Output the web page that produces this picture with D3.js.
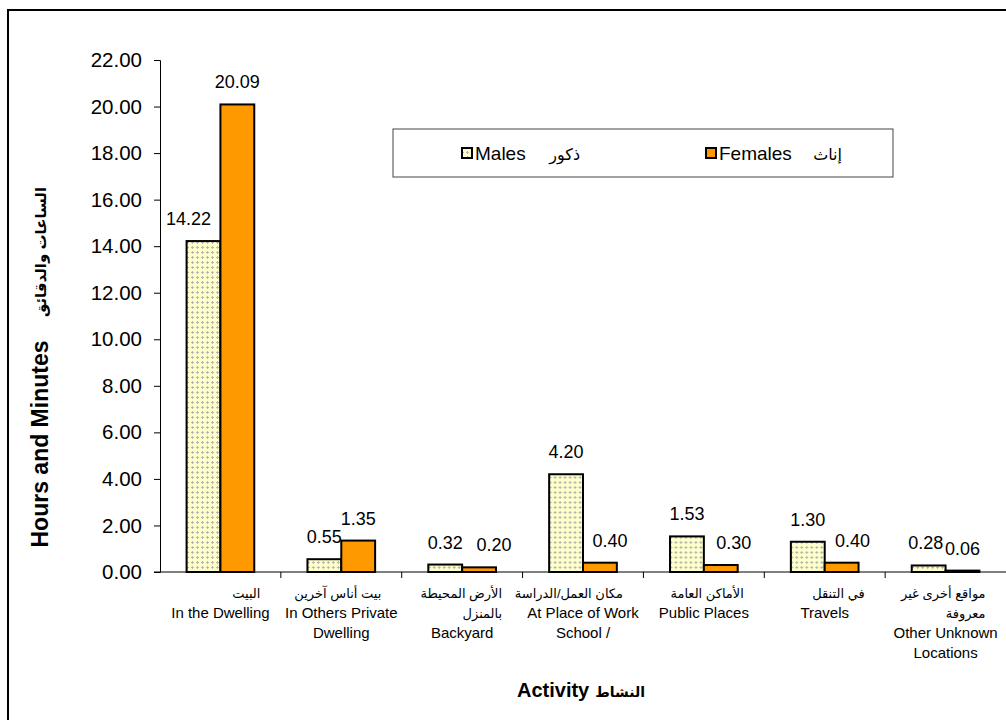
<!DOCTYPE html>
<html>
<head>
<meta charset="utf-8">
<script src="https://cdn.jsdelivr.net/npm/d3@7"></script>
<style>
	body { margin: 0; background: #fff; }
	text { font-family: "Liberation Sans", Arial, "DejaVu Sans", sans-serif; fill: #000; }
</style>
</head>
<body>
<div id="mainWrapper"><svg width="1006" height="720"></svg></div>
<script>
	// data
	var categoriesAr = [
		["البيت"],
		["بيت أناس آخرين"],
		["الأرض المحيطة", "بالمنزل"],
		["مكان العمل/الدراسة"],
		["الأماكن العامة"],
		["في التنقل"],
		["مواقع أخرى غير", "معروفة"]
	];
	var categoriesEn = [
		["In the Dwelling"],
		["In Others Private", "Dwelling"],
		["Backyard"],
		["At Place of Work", "School /"],
		["Public Places"],
		["Travels"],
		["Other Unknown", "Locations"]
	];
	var males   = [14.22, 0.55, 0.32, 4.20, 1.53, 1.30, 0.28];
	var females = [20.09, 1.35, 0.20, 0.40, 0.30, 0.40, 0.06];
	var yTicks  = [0, 2, 4, 6, 8, 10, 12, 14, 16, 18, 20, 22];
	var seriesNames = ["Males", "Females"];
	var seriesAr = ["ذكور", "إناث"];

	//ラベルの横ずらし（元の図に合わせる）
	var labelDx = {
		Males:   [-15, 0, 0, 0, 0, 0, -3],
		Females: [0, 0, 15, 10, 13, 11, 0]
	};

	function ChartDraw(){

		var svg = d3.select("#mainWrapper>svg");

		//外枠
		svg.append("rect")
			.attr("x", 8).attr("y", 10)
			.attr("width", 1010).attr("height", 720)
			.attr("fill", "none")
			.attr("stroke", "#000")
			.attr("stroke-width", 2);

		//pattern for males
		var defs = svg.append("defs");
		var pat = defs.append("pattern")
			.attr("id", "malePat")
			.attr("width", 5).attr("height", 5)
			.attr("patternUnits", "userSpaceOnUse");
		pat.append("rect").attr("width", 5).attr("height", 5).attr("fill", "#ffffcc");
		pat.append("rect").attr("x", 2).attr("y", 1).attr("width", 1).attr("height", 3).attr("fill", "#b8b8b0");
		pat.append("rect").attr("x", 1).attr("y", 2).attr("width", 3).attr("height", 1).attr("fill", "#b8b8b0");

		var left = 160, right = 1006, top = 60, bottom = 572;

		var y = d3.scaleLinear().domain([0, 22]).range([bottom, top]);
		var x0 = d3.scaleBand().domain(d3.range(males.length)).range([left, right]);
		var bw = x0.bandwidth();
		var x1 = d3.scaleBand().domain(seriesNames).range([bw * 0.22, bw * 0.78]);

		//y軸
		var yAxis = svg.append("g")
			.attr("transform", "translate(" + left + ",0)")
			.call(d3.axisLeft(y).tickValues(yTicks).tickFormat(d3.format(".2f")).tickSize(6).tickPadding(12));
		yAxis.select(".domain").attr("stroke", "#000");
		yAxis.selectAll(".tick line").attr("stroke", "#000");
		yAxis.selectAll(".tick text")
			.style("font-size", "20.5px")
			.attr("fill", "#000");

		//x軸
		var xg = svg.append("g");
		xg.append("line")
			.attr("x1", left - 6).attr("x2", right)
			.attr("y1", bottom).attr("y2", bottom)
			.attr("stroke", "#000");
		xg.selectAll(".xtick")
			.data(d3.range(1, males.length))
			.enter()
			.append("line")
			.attr("x1", function(d){ return x0(d); })
			.attr("x2", function(d){ return x0(d); })
			.attr("y1", bottom).attr("y2", bottom + 6)
			.attr("stroke", "#000");

		//棒
		var groups = svg.selectAll(".grp")
			.data(males.map(function(m, i){ return [{s:"Males", v:m, i:i}, {s:"Females", v:females[i], i:i}]; }))
			.enter()
			.append("g")
			.attr("transform", function(d, i){ return "translate(" + x0(i) + ",0)"; });

		groups.selectAll("rect")
			.data(function(d){ return d; })
			.enter()
			.append("rect")
			.attr("x", function(d){ return x1(d.s); })
			.attr("y", function(d){ return y(d.v); })
			.attr("width", x1.bandwidth())
			.attr("height", function(d){ return bottom - y(d.v); })
			.attr("fill", function(d){ return d.s == "Males" ? "url(#malePat)" : "#ff9900"; })
			.attr("stroke", "#000")
			.attr("stroke-width", 2);

		//数値
		groups.selectAll("text")
			.data(function(d){ return d; })
			.enter()
			.append("text")
			.attr("x", function(d){ return x1(d.s) + x1.bandwidth() / 2 + labelDx[d.s][d.i]; })
			.attr("y", function(d){ return y(d.v) - 16; })
			.attr("text-anchor", "middle")
			.style("font-size", "18px")
			.text(function(d){ return d.v.toFixed(2); });

		//カテゴリラベル
		var lab = svg.selectAll(".cat")
			.data(d3.range(males.length))
			.enter()
			.append("g")
			.attr("transform", function(i){ return "translate(" + (x0(i) + bw / 2) + "," + (bottom + 26) + ")"; });

		lab.each(function(i){
			var g = d3.select(this);
			var n = 0;
			categoriesAr[i].forEach(function(t){
				g.append("text")
					.attr("x", 40).attr("y", n * 20)
					.attr("text-anchor", "end")
					.style("font-size", "13px")
					.text(t);
				n++;
			});
			categoriesEn[i].forEach(function(t){
				g.append("text")
					.attr("x", 0).attr("y", n * 20)
					.attr("text-anchor", "middle")
					.style("font-size", "15px")
					.text(t);
				n++;
			});
		});

		//軸タイトル
		svg.append("text")
			.attr("transform", "translate(48,444) rotate(-90)")
			.attr("text-anchor", "middle")
			.style("font-size", "23px").style("font-weight", "bold")
			.text("Hours and Minutes");
		svg.append("text")
			.attr("transform", "translate(46,252) rotate(-90)")
			.attr("text-anchor", "middle")
			.style("font-size", "15px").style("font-weight", "bold")
			.text("الساعات والدقائق");

		svg.append("text")
			.attr("x", 517).attr("y", 697)
			.style("font-size", "20px").style("font-weight", "bold")
			.text("Activity");
		svg.append("text")
			.attr("x", 645).attr("y", 697)
			.attr("text-anchor", "end")
			.style("font-size", "14px").style("font-weight", "bold")
			.text("النشاط");

		//凡例
		var leg = svg.append("g");
		leg.append("rect")
			.attr("x", 393).attr("y", 129)
			.attr("width", 500).attr("height", 48)
			.attr("fill", "#fff")
			.attr("stroke", "#444");
		var legX = [462, 706];
		seriesNames.forEach(function(s, i){
			leg.append("rect")
				.attr("x", legX[i]).attr("y", 148)
				.attr("width", 10).attr("height", 10)
				.attr("fill", i == 0 ? "url(#malePat)" : "#ff9900")
				.attr("stroke", "#000")
				.attr("stroke-width", 2);
			leg.append("text")
				.attr("x", legX[i] + 13).attr("y", 160)
				.style("font-size", "19px")
				.text(s);
			leg.append("text")
				.attr("x", legX[i] + (i == 0 ? 118 : 136)).attr("y", 160)
				.attr("text-anchor", "end")
				.style("font-size", "16px")
				.text(seriesAr[i]);
		});
	}

	ChartDraw();
</script>
</body>
</html>
